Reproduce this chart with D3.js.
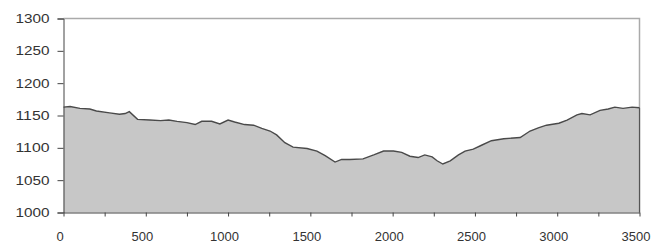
<!DOCTYPE html>
<html>
<head>
<meta charset="utf-8">
<script src="https://cdn.jsdelivr.net/npm/d3@7"></script>
<style>
  body { margin: 0; background: #fff; }
  .axis text { font-family: "Liberation Sans", Arial, sans-serif; fill: #333; }
</style>
</head>
<body>
<div id="chart"></div>
<script>
// distance (m) and elevation (m)
const distance = [0, 40, 100, 160, 200, 280, 340, 375, 400, 450, 525, 590, 640, 690, 750, 800, 840, 900, 950, 1000,
    1040, 1100, 1155, 1205, 1255, 1295, 1345, 1395, 1480, 1540, 1590, 1650, 1690, 1740, 1820, 1885, 1945, 2005, 2055,
    2105, 2155, 2195, 2240, 2270, 2305, 2350, 2400, 2440, 2490, 2540, 2600, 2675, 2775, 2835, 2885, 2935, 3010, 3060,
    3120, 3150, 3200, 3260, 3310, 3350, 3400, 3455, 3500];
const elevation = [1163, 1164, 1161, 1160, 1157, 1154, 1152, 1153, 1156, 1144, 1143, 1142, 1143, 1141, 1139, 1136, 1141, 1141, 1137, 1143,
    1140, 1136, 1135, 1130, 1126, 1120, 1108, 1101, 1099, 1095, 1088, 1078, 1082, 1082, 1083, 1089, 1095, 1095, 1093,
    1087, 1085, 1089, 1086, 1080, 1075, 1080, 1089, 1095, 1098, 1104, 1111, 1114, 1116, 1126, 1131, 1135, 1138, 1143,
    1151, 1153, 1151, 1158, 1160, 1163, 1161, 1163, 1162];

const yTicks = [1000, 1050, 1100, 1150, 1200, 1250, 1300];
const xTicks = [0, 250, 500, 750, 1000, 1250, 1500, 1750, 2000, 2250, 2500, 2750, 3000, 3250, 3500];
const xLabels = [0, 500, 1000, 1500, 2000, 2500, 3000, 3500];

const margin = {top: 18.5, right: 18.5, bottom: 37.5, left: 63.5};
const width = 658 - margin.left - margin.right;
const height = 250 - margin.top - margin.bottom;

const data = distance.map((d, i) => ({x: d, y: elevation[i]}));

const x = d3.scaleLinear().domain([0, 3500]).range([0, width]);
const y = d3.scaleLinear().domain([1000, 1300]).range([height, 0]);

const svg = d3.select("#chart").append("svg")
    .attr("width", 658)
    .attr("height", 250)
    .append("g")
        .attr("transform", `translate(${margin.left}, ${margin.top})`);

// plot frame (top and right)
svg.append("path")
    .attr("d", `M0,0H${width}V${height}`)
    .attr("fill", "none")
    .attr("stroke", "#aaa")
    .attr("stroke-width", 1.5);

const area = d3.area()
    .x(d => x(d.x))
    .y0(y(1000))
    .y1(d => y(d.y));

const line = d3.line()
    .x(d => x(d.x))
    .y(d => y(d.y));

svg.append("path")
    .datum(data)
    .attr("d", area)
    .attr("fill", "#c7c7c7");

svg.append("path")
    .datum(data)
    .attr("d", line)
    .attr("fill", "none")
    .attr("stroke", "#4a4a4a")
    .attr("stroke-width", 1.4);

// right edge of the filled area
svg.append("line")
    .attr("x1", x(3500)).attr("x2", x(3500))
    .attr("y1", y(elevation[elevation.length - 1])).attr("y2", height)
    .attr("stroke", "#555")
    .attr("stroke-width", 1.2);

const yAxis = d3.axisLeft(y)
    .tickValues(yTicks)
    .tickSize(6)
    .tickPadding(8)
    .tickFormat(d3.format("d"));

const gy = svg.append("g")
    .attr("class", "y axis")
    .call(yAxis);
gy.select(".domain").attr("stroke", "#444");
gy.selectAll(".tick line").attr("stroke", "#444");
gy.selectAll("text")
    .attr("font-size", "12px")
    .attr("textLength", 34)
    .attr("lengthAdjust", "spacingAndGlyphs");

const xAxis = d3.axisBottom(x)
    .tickValues(xTicks)
    .tickSize(4)
    .tickSizeOuter(0)
    .tickFormat(d => xLabels.includes(d) ? d : "");

const gx = svg.append("g")
    .attr("class", "x axis")
    .attr("transform", `translate(0, ${height})`)
    .call(xAxis);
gx.select(".domain").attr("stroke", "#444");
gx.selectAll(".tick line").attr("stroke", "#444");
gx.selectAll("text")
    .attr("font-size", "13px")
    .attr("y", 19.5)
    .attr("dx", "-4px");
</script>
</body>
</html>
